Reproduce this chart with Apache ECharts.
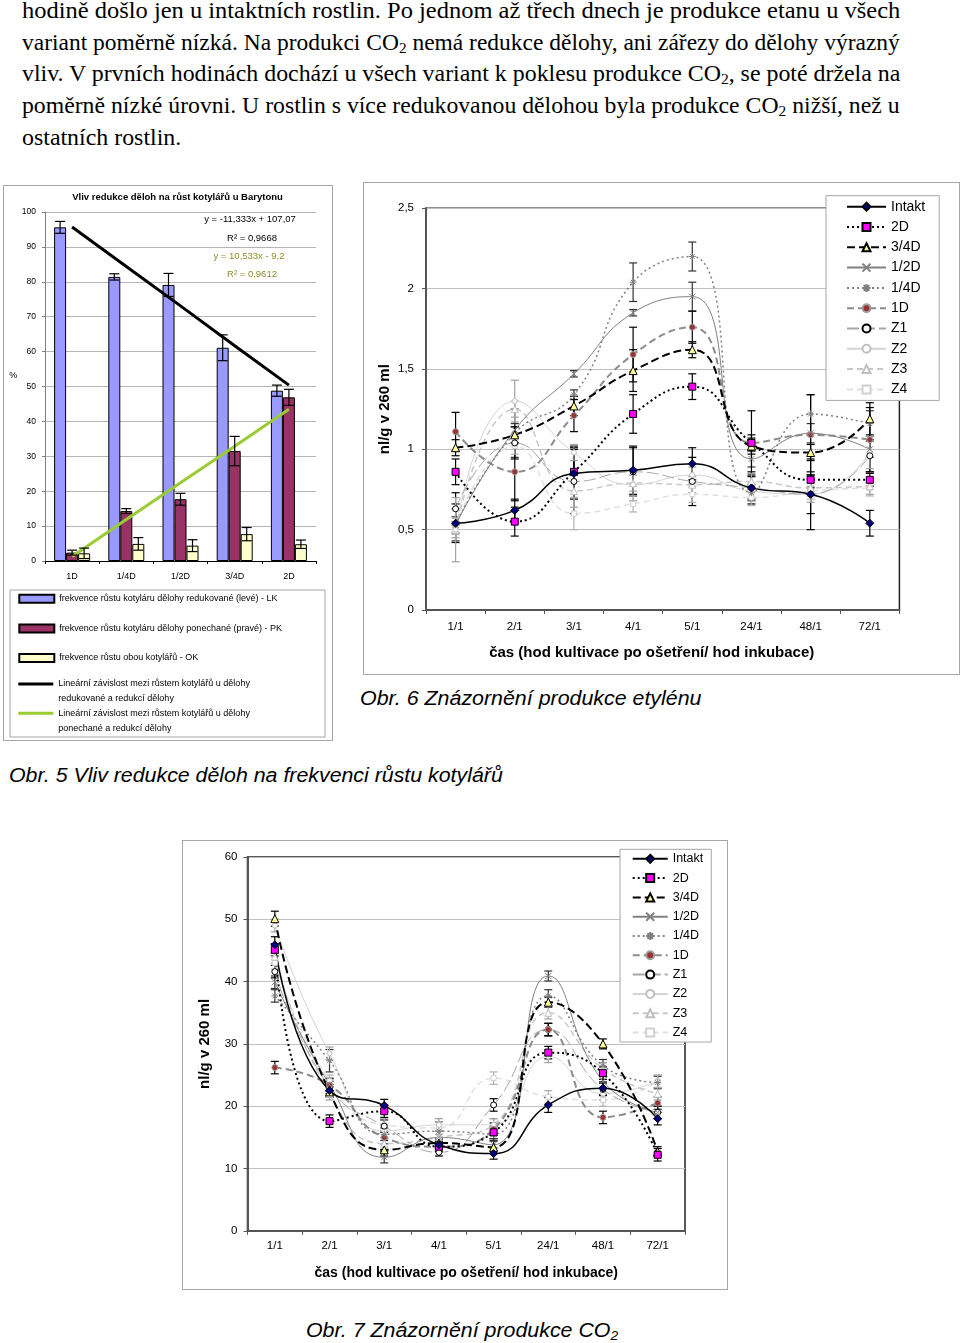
<!DOCTYPE html>
<html><head><meta charset="utf-8">
<script src="https://cdn.jsdelivr.net/npm/echarts@6/dist/echarts.min.js"></script>
<style>
body{margin:0;background:#fff;width:960px;height:1343px;position:relative;overflow:hidden;font-family:'Liberation Serif','Times New Roman',serif;}
.para{position:absolute;left:22px;white-space:nowrap;font-size:23px;line-height:32px;height:32px;color:#000;transform-origin:0 50%;}
.para sub,.cap sub{font-size:65%;vertical-align:-3px;line-height:0}
.cap{position:absolute;font-family:'Liberation Sans',Arial,sans-serif;font-style:italic;font-size:20px;white-space:nowrap;line-height:24px;transform-origin:0 50%;color:#000}
.box{position:absolute;border:1px solid #a6a6a6;box-sizing:border-box;background:#fff}
</style></head>
<body>
<div class="para" style="top:-5px">hodině došlo jen u intaktních rostlin. Po jednom až třech dnech je produkce etanu u všech</div>
<div class="para" style="top:27px">variant poměrně nízká. Na produkci CO<sub>2</sub> nemá redukce dělohy, ani zářezy do dělohy výrazný</div>
<div class="para" style="top:58px">vliv. V prvních hodinách dochází u všech variant k poklesu produkce CO<sub>2</sub>, se poté držela na</div>
<div class="para" style="top:90px">poměrně nízké úrovni. U rostlin s více redukovanou dělohou byla produkce CO<sub>2</sub> nižší, než u</div>
<div class="para last" style="top:122px">ostatních rostlin.</div>
<div id="c1" class="box" style="left:3px;top:185px;width:330px;height:556px"></div>
<div id="c2" class="box" style="left:363px;top:182px;width:597px;height:493px"></div>
<div id="c3" class="box" style="left:182px;top:840px;width:546px;height:450px"></div>
<div class="cap" data-w="494" style="left:9px;top:763px">Obr. 5 Vliv redukce děloh na frekvenci růstu kotylářů</div>
<div class="cap" data-w="341" style="left:360px;top:686px">Obr. 6 Znázornění produkce etylénu</div>
<div class="cap" data-w="312" style="left:306px;top:1318px">Obr. 7 Znázornění produkce CO<sub>2</sub></div>
<script>
// ---------- DATA: chart 1 (bars) ----------
const barCats = ['1D', '1/4D', '1/2D', '3/4D', '2D'];
const lkValues = [95.6, 81.4, 79.1, 61.1, 48.8];
const lkErr = [1.7, 0.9, 3.3, 3.7, 1.6];
const pkValues = [2.4, 14.3, 17.7, 31.5, 46.9];
const pkErr = [0.7, 0.7, 1.7, 4.2, 2.3];
const okValues = [2.2, 4.9, 4.4, 7.7, 4.8];
const okErr = [1.5, 1.8, 1.7, 1.9, 1.2];
const trendLK = [95.7, 84.4, 73.1, 61.7, 50.4];
const trendPK = [1.3, 11.9, 22.4, 32.9, 43.5];
const barNames = ['frekvence růstu kotyláru dělohy redukované (levé) - LK',
  'frekvence růstu kotyláru dělohy ponechané (pravé) - PK',
  'frekvence růstu obou kotylářů - OK'];
const trendNames = ['Lineární závislost mezi růstem kotylářů u dělohy\nredukované a redukcí dělohy',
  'Lineární závislost mezi růstem kotylářů u dělohy\nponechané a redukcí dělohy'];

// ---------- DATA: chart 2 (ethylene) ----------
const timeCats = ['1/1', '2/1', '3/1', '4/1', '5/1', '24/1', '48/1', '72/1'];
const seriesNames = ['Intakt', '2D', '3/4D', '1/2D', '1/4D', '1D', 'Z1', 'Z2', 'Z3', 'Z4'];
const ethIntakt = [0.54, 0.62, 0.85, 0.87, 0.91, 0.76, 0.72, 0.54];
const eth2D = [0.86, 0.55, 0.86, 1.22, 1.39, 1.04, 0.81, 0.81];
const eth34D = [1.01, 1.09, 1.27, 1.49, 1.62, 1.02, 0.98, 1.19];
const eth12D = [0.53, 1.12, 1.47, 1.85, 1.95, 0.94, 1.10, 1.00];
const eth14D = [0.53, 1.10, 1.34, 2.04, 2.20, 0.73, 1.22, 1.16];
const eth1D = [1.11, 0.86, 1.21, 1.59, 1.76, 1.04, 1.09, 1.06];
const ethZ1 = [0.63, 1.04, 0.80, 0.86, 0.80, 0.76, 0.72, 0.96];
const ethZ2 = [0.50, 1.30, 0.98, 0.78, 0.84, 0.74, 0.72, 0.98];
const ethZ3 = [0.50, 1.25, 0.74, 0.79, 0.78, 0.80, 0.76, 0.77];
const ethZ4 = [0.52, 1.02, 0.60, 0.66, 0.72, 0.70, 0.74, 0.76];
const ethIntaktErr = [0.12, 0.07, 0.16, 0.15, 0.10, 0.07, 0.22, 0.08];
const eth2DErr = [0.08, 0.09, 0.16, 0.12, 0.08, 0.05, 0.05, 0.04];
const eth34DErr = [0.05, 0.05, 0.06, 0.13, 0.05, 0.05, 0.05, 0.10];
const eth12DErr = [0.05, 0.04, 0.02, 0.02, 0.09, 0.05, 0.06, 0.05];
const eth14DErr = [0.10, 0.15, 0.03, 0.12, 0.09, 0.05, 0.12, 0.08];
const eth1DErr = [0.12, 0.18, 0.10, 0.17, 0.10, 0.20, 0.25, 0.20];
const ethZ1Err = [0.10, 0.10, 0.20, 0.15, 0.15, 0.10, 0.12, 0.10];
const ethZ2Err = [0.20, 0.13, 0.05, 0.10, 0.05, 0.05, 0.05, 0.10];
const ethZ3Err = [0.05, 0.05, 0.10, 0.05, 0.05, 0.05, 0.05, 0.05];
const ethZ4Err = [0.05, 0.05, 0.10, 0.05, 0.05, 0.05, 0.05, 0.05];

// ---------- DATA: chart 3 (CO2) ----------
const co2Intakt = [45.9, 22.5, 20.1, 13.8, 12.4, 20.2, 22.9, 18.0];
const co2_2D = [45.1, 17.6, 19.2, 13.5, 15.8, 28.6, 25.3, 12.2];
const co2_34D = [50.1, 22.3, 13.0, 14.1, 13.4, 36.7, 30.0, 12.7];
const co2_12D = [39.9, 23.5, 11.8, 15.0, 13.8, 40.9, 24.0, 19.0];
const co2_14D = [37.7, 27.3, 15.5, 16.0, 15.5, 37.7, 26.5, 23.8];
const co2_1D = [26.2, 23.4, 15.0, 13.5, 16.3, 32.3, 18.2, 20.5];
const co2Z1 = [41.6, 23.0, 16.8, 12.6, 20.2, 32.3, 22.7, 19.0];
const co2Z2 = [49.0, 28.5, 16.0, 17.0, 17.0, 28.0, 22.0, 24.0];
const co2Z3 = [44.0, 22.0, 14.0, 15.0, 17.0, 35.0, 26.0, 22.0];
const co2Z4 = [43.0, 24.0, 17.0, 16.5, 24.5, 21.5, 21.0, 24.0];
const co2IntaktErr = [1.3, 1.0, 1.0, 0.8, 0.9, 1.2, 1.0, 1.0];
const co2_2DErr = [1.0, 1.0, 1.0, 0.8, 1.0, 1.0, 1.0, 1.0];
const co2_34DErr = [1.2, 0.8, 1.0, 0.8, 1.0, 0.8, 0.8, 0.8];
const co2_12DErr = [1.0, 1.0, 0.9, 1.0, 1.0, 0.8, 1.0, 1.0];
const co2_14DErr = [1.0, 1.8, 1.0, 1.5, 1.0, 1.0, 1.0, 1.0];
const co2_1DErr = [1.0, 1.0, 1.0, 0.8, 1.0, 1.0, 1.0, 1.0];
const co2Z1Err = [1.0, 1.0, 1.0, 0.6, 1.0, 1.0, 1.0, 1.0];
const co2Z2Err = [1.0, 1.0, 1.0, 1.0, 1.0, 1.0, 1.0, 1.0];
const co2Z3Err = [1.0, 1.0, 1.0, 1.0, 1.0, 1.0, 1.0, 1.0];
const co2Z4Err = [1.0, 1.0, 1.0, 1.0, 1.0, 1.0, 1.0, 1.0];

// ---------- text fitting ----------
const paras = document.querySelectorAll('.para');
const scales = [];
paras.forEach(p => {
  if (!p.classList.contains('last')) {
    const s = 878 / p.offsetWidth; scales.push(s);
    p.style.transform = 'scaleX(' + s + ')';
  }
});
const avgScale = scales.reduce((a, b) => a + b, 0) / scales.length;
document.querySelector('.para.last').style.transform = 'scaleX(' + avgScale + ')';
document.querySelectorAll('.cap').forEach(c => {
  c.style.transform = 'scaleX(' + (c.dataset.w / c.offsetWidth) + ')';
});

// ---------- helpers ----------
const FONT = "'Liberation Sans', Arial, sans-serif";
function errRenderer(offsets, colors, cap) {
  return function (params, api) {
    const i = api.value(0), lo = api.value(1), hi = api.value(2), k = api.value(3);
    const a = api.coord([i, hi]), b = api.coord([i, lo]);
    const x = a[0] + (offsets ? offsets[k] : 0);
    const st = { stroke: colors[k], lineWidth: 1.2 };
    return { type: 'group', children: [
      { type: 'line', shape: { x1: x, y1: a[1], x2: x, y2: b[1] }, style: st },
      { type: 'line', shape: { x1: x - cap, y1: a[1], x2: x + cap, y2: a[1] }, style: st },
      { type: 'line', shape: { x1: x - cap, y1: b[1], x2: x + cap, y2: b[1] }, style: st }
    ] };
  };
}
function buildErr(valuesList, errList) {
  const out = [];
  valuesList.forEach((vals, s) => vals.forEach((v, i) => {
    out.push([i, +(v - errList[s][i]).toFixed(3), +(v + errList[s][i]).toFixed(3), s]);
  }));
  return out;
}

// ---------- chart 1 ----------
const c1 = echarts.init(document.getElementById('c1'));
const barColors = ['#9999ff', '#993366', '#ffffcc'];
const barVals = [lkValues, pkValues, okValues];
const barErrs = [lkErr, pkErr, okErr];
const trendLegend = (top, name) => ({
  data: [{ name: name, icon: 'rect' }], orient: 'vertical', left: 14.3, top: top,
  itemWidth: 35, itemHeight: 3, padding: 0, selectedMode: false,
  formatter: n => ' \n' + n,
  textStyle: { fontSize: 9, lineHeight: 15, color: '#000', fontFamily: FONT }
});
const opt1 = {
  animation: false,
  textStyle: { fontFamily: FONT },
  grid: { left: 41, top: 26, width: 271, height: 349, outerBoundsMode: 'none' },
  xAxis: {
    type: 'category', data: barCats,
    axisLine: { lineStyle: { color: '#000', width: 1 } },
    axisTick: { show: true, length: 3, lineStyle: { color: '#000' } },
    axisLabel: { color: '#000', fontSize: 9, margin: 11, fontFamily: FONT },
    splitLine: { show: false }
  },
  yAxis: {
    type: 'value', min: 0, max: 100, interval: 10,
    axisLine: { show: true, lineStyle: { color: '#808080' } },
    axisTick: { show: true, length: 3, lineStyle: { color: '#808080' } },
    axisLabel: { color: '#000', fontSize: 8.5, margin: 9, fontFamily: FONT },
    splitLine: { lineStyle: { color: '#b4b4b4' } }
  },
  legend: [
    { data: barNames.map(n => ({ name: n, icon: 'rect' })), orient: 'vertical', left: 14.3, top: 407.8,
      itemWidth: 35, itemHeight: 8, itemGap: 19.6, padding: 0, selectedMode: false,
      textStyle: { fontSize: 9, color: '#000', fontFamily: FONT } },
    trendLegend(475.5, trendNames[0]),
    trendLegend(504.8, trendNames[1])
  ],
  graphic: [
    { type: 'text', x: 173.5, y: 11.7, style: { text: 'Vliv redukce děloh na růst kotylářů u Barytonu', fontSize: 9.5, fontWeight: 'bold', fontFamily: FONT, fill: '#000', align: 'center', verticalAlign: 'middle' } },
    { type: 'text', x: 246, y: 33.3, style: { text: 'y = -11,333x + 107,07', fontSize: 9.5, fontFamily: FONT, fill: '#000', align: 'center', verticalAlign: 'middle' } },
    { type: 'text', x: 248, y: 52.3, style: { text: 'R² = 0,9668', fontSize: 9.5, fontFamily: FONT, fill: '#000', align: 'center', verticalAlign: 'middle' } },
    { type: 'text', x: 245, y: 70.7, style: { text: 'y = 10,533x - 9,2', fontSize: 9.5, fontFamily: FONT, fill: '#8c8c2e', align: 'center', verticalAlign: 'middle' } },
    { type: 'text', x: 248, y: 88.3, style: { text: 'R² = 0,9612', fontSize: 9.5, fontFamily: FONT, fill: '#8c8c2e', align: 'center', verticalAlign: 'middle' } },
    { type: 'text', x: 9.3, y: 190, style: { text: '%', fontSize: 9, fontFamily: FONT, fill: '#000', align: 'center', verticalAlign: 'middle' } },
    { type: 'rect', shape: { x: 6, y: 404, width: 315, height: 147 }, style: { fill: 'none', stroke: '#a6a6a6', lineWidth: 1 } }
  ],
  series: [
    ...barNames.map((n, k) => ({
      name: n, type: 'bar', data: barVals[k], barWidth: 12, barGap: '0%',
      itemStyle: { color: barColors[k], borderColor: '#000', borderWidth: 1 },
      emphasis: { disabled: true }, z: 2
    })),
    { name: trendNames[0], type: 'line', data: trendLK, symbol: 'none', color: '#000',
      lineStyle: { color: '#000', width: 3 }, itemStyle: { color: '#000' }, z: 4, emphasis: { disabled: true } },
    { name: trendNames[1], type: 'line', data: trendPK, symbol: 'none', color: '#99cc33',
      lineStyle: { color: '#99cc33', width: 3 }, itemStyle: { color: '#99cc33' }, z: 4, emphasis: { disabled: true } },
    { type: 'custom', renderItem: errRenderer([-12, 0, 12], ['#000', '#000', '#000'], 5),
      data: buildErr(barVals, barErrs), encode: { x: 0, y: [1, 2] }, z: 6, silent: true }
  ]
};
c1.setOption(opt1);

// ---------- line charts ----------
const XPATH = 'path://M0,0L10,10M10,0L0,10';
const ASTPATH = 'path://M5,0L5,10M0,5L10,5M1.5,1.5L8.5,8.5M8.5,1.5L1.5,8.5';
const lineLooks = [
  { c: '#000000', w: 1.5, t: 'solid', sym: 'diamond', sz: 8, fill: '#000080', st: '#000000', err: '#000000' },
  { c: '#000000', w: 2, t: [2, 3], sym: 'rect', sz: 7, fill: '#ff00ff', st: '#000000', err: '#000000' },
  { c: '#000000', w: 2, t: [8, 4], sym: 'triangle', sz: 8, fill: '#ffff99', st: '#000000', err: '#000000' },
  { c: '#808080', w: 1, t: 'solid', sym: XPATH, sz: 6, fill: '#808080', st: '#808080', err: '#333333' },
  { c: '#808080', w: 1.5, t: [2, 3], sym: ASTPATH, sz: 7, fill: '#808080', st: '#808080', err: '#333333' },
  { c: '#8c8c8c', w: 2, t: [7, 4], sym: 'circle', sz: 6, fill: '#993333', st: '#a0a0a0', err: '#000000' },
  { c: '#a6a6a6', w: 1, t: [12, 4], sym: 'circle', sz: 6, fill: '#ffffff', st: '#000000', err: '#000000' },
  { c: '#d4d4d4', w: 1, t: 'solid', sym: 'circle', sz: 5, fill: '#ffffff', st: '#c0c0c0', err: '#a0a0a0' },
  { c: '#c8c8c8', w: 1.5, t: [6, 4], sym: 'triangle', sz: 7, fill: '#ffffff', st: '#c0c0c0', err: '#a0a0a0' },
  { c: '#e0e0e0', w: 1.5, t: [6, 4], sym: 'rect', sz: 5, fill: '#ffffff', st: '#d0d0d0', err: '#b0b0b0' }
];

function lineOption(cfg) {
  const lines = seriesNames.map((name, i) => {
    const L = lineLooks[i];
    return {
      name, type: 'line', data: cfg.values[i], smooth: 0.5, symbol: L.sym, symbolSize: L.sz,
      color: L.c,
      lineStyle: { color: L.c, width: L.w, type: L.t },
      itemStyle: { color: L.fill, borderColor: L.st, borderWidth: 1 },
      emphasis: { disabled: true }, z: 3, silent: true
    };
  }).reverse();
  return {
    animation: false,
    textStyle: { fontFamily: FONT },
    grid: Object.assign({ show: true, borderColor: '#222', borderWidth: 1.5, backgroundColor: '#fff', outerBoundsMode: 'none' }, cfg.grid),
    xAxis: {
      type: 'category', data: timeCats, boundaryGap: true,
      axisLine: { lineStyle: { color: '#555', width: 2 } },
      axisTick: { show: true, length: 4, alignWithLabel: false, lineStyle: { color: '#555' } },
      axisLabel: { color: '#000', fontSize: cfg.labelSize, margin: cfg.xMargin, fontFamily: FONT },
      name: 'čas (hod kultivace po ošetření/ hod inkubace)', nameLocation: 'middle', nameGap: cfg.xNameGap,
      nameMoveOverlap: false,
      nameTextStyle: { fontSize: cfg.xNameSize, fontWeight: 'bold', color: '#000', fontFamily: FONT, padding: cfg.xNamePad }
    },
    yAxis: {
      type: 'value', min: 0, max: cfg.yMax, interval: cfg.yInterval,
      axisLine: { show: true, lineStyle: { color: '#555', width: 2 } },
      axisTick: { show: true, length: 4, lineStyle: { color: '#555' } },
      axisLabel: { color: '#000', fontSize: cfg.labelSize, margin: cfg.yMargin, fontFamily: FONT,
        formatter: v => String(v).replace('.', ',') },
      splitLine: { lineStyle: { color: '#c0c0c0', width: 1 } },
      name: 'nl/g v 260 ml', nameLocation: 'middle', nameGap: cfg.yNameGap, nameMoveOverlap: false,
      nameTextStyle: { fontSize: 15, fontWeight: 'bold', color: '#000', fontFamily: FONT }
    },
    legend: Object.assign({
      data: seriesNames, orient: 'vertical', selectedMode: false,
      backgroundColor: '#fff', borderColor: '#a6a6a6', borderWidth: 1, borderRadius: 0,
      textStyle: { color: '#000', fontFamily: FONT }
    }, cfg.legend),
    series: [
      { type: 'custom', renderItem: errRenderer(null, lineLooks.map(l => l.err), 4),
        data: buildErr(cfg.values, cfg.errs), encode: { x: 0, y: [1, 2] }, z: 2, silent: true },
      ...lines
    ]
  };
}

const c2 = echarts.init(document.getElementById('c2'));
c2.setOption(lineOption({
  values: [ethIntakt, eth2D, eth34D, eth12D, eth14D, eth1D, ethZ1, ethZ2, ethZ3, ethZ4],
  errs: [ethIntaktErr, eth2DErr, eth34DErr, eth12DErr, eth14DErr, eth1DErr, ethZ1Err, ethZ2Err, ethZ3Err, ethZ4Err],
  grid: { left: 62, top: 25.3, width: 473.4, height: 401.7 },
  yMax: 2.5, yInterval: 0.5, labelSize: 11.5, xMargin: 11, yMargin: 12,
  xNameGap: 35.5, xNameSize: 15, xNamePad: [0, 22, 0, 0], yNameGap: 33.5,
  legend: { left: 462, top: 12.7, padding: [4, 14, 4, 20], itemWidth: 39, itemHeight: 10, itemGap: 6.3,
    textStyle: { fontSize: 14, color: '#000', fontFamily: FONT } }
}));

const c3 = echarts.init(document.getElementById('c3'));
c3.setOption(lineOption({
  values: [co2Intakt, co2_2D, co2_34D, co2_12D, co2_14D, co2_1D, co2Z1, co2Z2, co2Z3, co2Z4],
  errs: [co2IntaktErr, co2_2DErr, co2_34DErr, co2_12DErr, co2_14DErr, co2_1DErr, co2Z1Err, co2Z2Err, co2Z3Err, co2Z4Err],
  grid: { left: 64.5, top: 16, width: 437.5, height: 373.8 },
  yMax: 60, yInterval: 10, labelSize: 11.5, xMargin: 9, yMargin: 10,
  xNameGap: 35, xNameSize: 14, xNamePad: [0, 0, 0, 0], yNameGap: 35,
  legend: { left: 437, top: 8.3, padding: [3, 8, 3, 11.7], itemWidth: 35, itemHeight: 10, itemGap: 6.3,
    textStyle: { fontSize: 12.5, color: '#000', fontFamily: FONT } }
}));
</script>
</body></html>
